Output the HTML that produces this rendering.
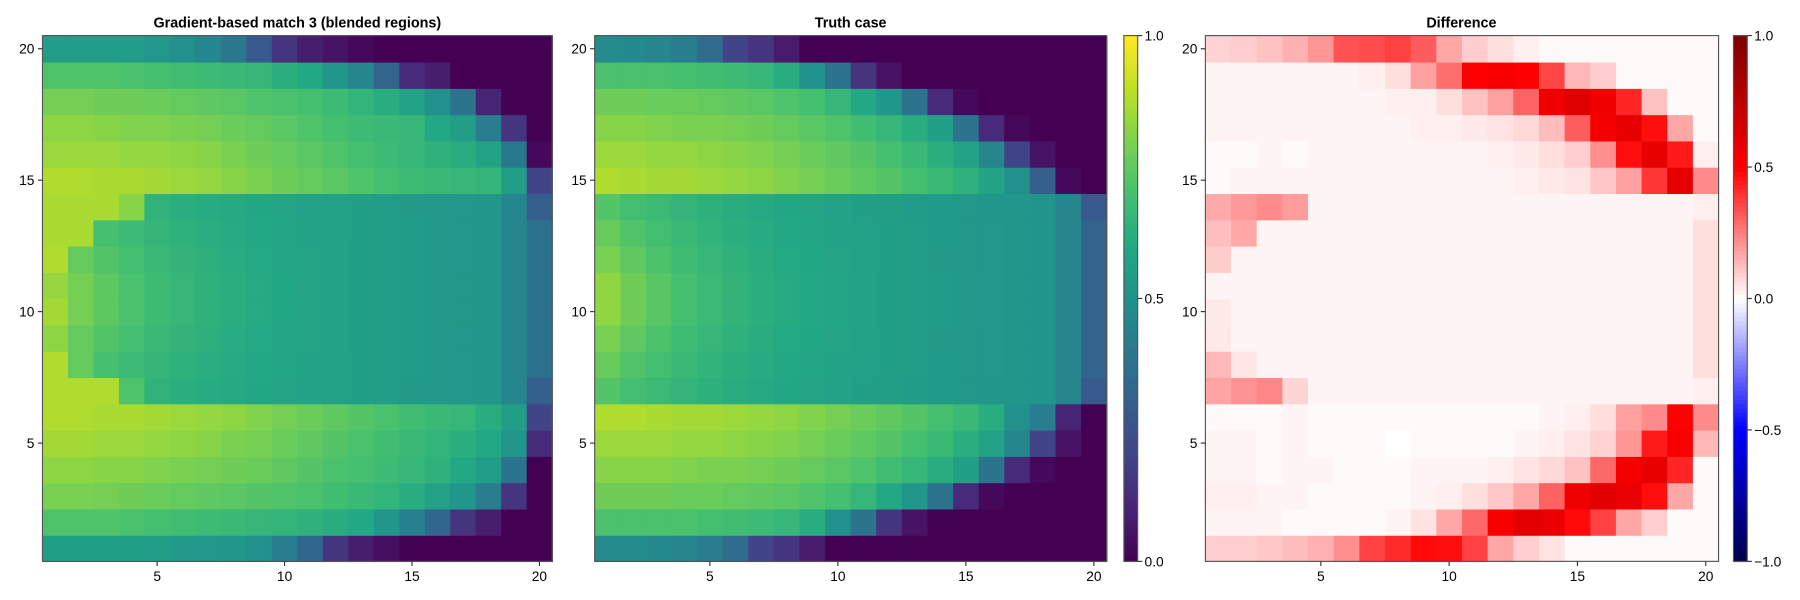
<!DOCTYPE html>
<html><head><meta charset="utf-8"><style>
body{margin:0;background:#fff;}
svg{display:block;font-family:"Liberation Sans",sans-serif;}
</style></head><body>
<svg width="1800" height="600" xmlns="http://www.w3.org/2000/svg">
<g id="s" transform="scale(1.148)">
<text x="259" y="24" font-size="12.5" font-weight="bold" text-anchor="middle">Gradient-based match 3 (blended regions)</text>
<text x="741" y="24" font-size="12.5" font-weight="bold" text-anchor="middle">Truth case</text>
<text x="1273" y="24" font-size="12.5" font-weight="bold" text-anchor="middle">Difference</text>
</g>
</svg>
<script>
const NS="http://www.w3.org/2000/svg",S=document.getElementById('s');
function el(n,a,t){const e=document.createElementNS(NS,n);for(const k in a)e.setAttribute(k,a[k]);if(t!==undefined)e.textContent=t;S.appendChild(e);return e;}
const V=[[0,[68,1,84]],[.1,[72,36,117]],[.2,[65,68,135]],[.3,[53,95,141]],[.4,[42,120,142]],[.5,[33,145,140]],[.6,[34,168,132]],[.7,[68,191,112]],[.8,[122,209,81]],[.9,[189,223,38]],[1,[253,231,37]]];
const SE=[[0,[0,0,77]],[.25,[0,0,255]],[.5,[255,255,255]],[.75,[255,0,0]],[1,[128,0,0]]];
function cm(M,t){t=Math.max(0,Math.min(1,t));for(let i=1;i<M.length;i++){if(t<=M[i][0]){const a=M[i-1],b=M[i],f=(t-a[0])/(b[0]-a[0]);return 'rgb('+a[1].map((v,j)=>Math.round(v+(b[1][j]-v)*f)).join(',')+')';}}return 'rgb('+M[M.length-1][1].join(',')+')';}
function pad(a){a=a.slice();while(a.length<20)a.push(0);return a;}
const Ttop=[
pad([0.48,0.47,0.45,0.42,0.35,0.2,0.15,0.07]),
pad([0.71,0.71,0.71,0.7,0.69,0.68,0.66,0.62,0.5,0.38,0.15,0.05]),
pad([0.78,0.78,0.77,0.77,0.76,0.75,0.74,0.72,0.7,0.66,0.6,0.52,0.38,0.12,0.02]),
pad([0.82,0.82,0.81,0.8,0.8,0.79,0.78,0.76,0.74,0.72,0.69,0.66,0.62,0.56,0.38,0.12,0.02]),
pad([0.85,0.85,0.84,0.84,0.83,0.82,0.81,0.79,0.77,0.75,0.73,0.7,0.67,0.63,0.58,0.45,0.2,0.05]),
pad([0.88,0.87,0.86,0.86,0.85,0.84,0.83,0.81,0.79,0.77,0.75,0.73,0.7,0.67,0.64,0.58,0.5,0.3,0.02])];
function shift(a){return [a[0]].concat(a.slice(0,19));}
const T={},P={};
for(let k=0;k<6;k++){T[20-k]=Ttop[k];T[1+k]=shift(Ttop[k]);}
T[6]=[0.88,0.88,0.87,0.86,0.86,0.85,0.84,0.83,0.81,0.79,0.77,0.75,0.73,0.7,0.67,0.62,0.5,0.42,0.1,0];
for(let r=7;r<=14;r++){const L=0.23-0.035*Math.abs(r-10.5);const row=[];
 for(let c=1;c<=20;c++)row.push(0.5+0.12*(20-c)/19+L*Math.exp(-(c-1)/4));
 row[18]=0.45;row[19]=(r==7||r==14)?0.28:0.32;T[r]=row;}
P[20]=pad([0.55,0.55,0.55,0.55,0.53,0.5,0.46,0.4,0.28,0.15,0.08,0.05,0.02]);
P[19]=pad([0.72,0.72,0.72,0.71,0.7,0.69,0.68,0.67,0.66,0.63,0.6,0.52,0.45,0.32,0.12,0.08]);
P[18]=pad([0.79,0.79,0.78,0.78,0.77,0.76,0.75,0.74,0.72,0.71,0.7,0.68,0.65,0.62,0.58,0.5,0.38,0.1]);
P[17]=pad([0.83,0.83,0.82,0.81,0.81,0.8,0.79,0.77,0.76,0.74,0.72,0.7,0.68,0.67,0.66,0.6,0.55,0.42,0.15]);
P[16]=pad([0.85,0.85,0.85,0.84,0.84,0.83,0.82,0.8,0.78,0.76,0.74,0.72,0.7,0.68,0.66,0.64,0.62,0.58,0.4,0.02]);
P[15]=[0.88,0.88,0.87,0.87,0.86,0.85,0.84,0.82,0.8,0.78,0.76,0.74,0.72,0.7,0.68,0.67,0.66,0.65,0.55,0.2];
P[1]=pad([0.56,0.56,0.56,0.56,0.55,0.54,0.53,0.52,0.5,0.42,0.33,0.15,0.08,0.04]);
P[2]=pad([0.72,0.72,0.72,0.71,0.7,0.69,0.68,0.67,0.66,0.65,0.64,0.62,0.6,0.52,0.43,0.33,0.15,0.08]);
P[3]=pad([0.8,0.8,0.79,0.78,0.77,0.76,0.75,0.74,0.73,0.72,0.71,0.69,0.67,0.65,0.62,0.57,0.52,0.42,0.15]);
P[4]=[0.83,0.83,0.82,0.82,0.81,0.8,0.79,0.78,0.77,0.75,0.73,0.71,0.7,0.68,0.66,0.64,0.6,0.55,0.38,0];
P[5]=[0.86,0.86,0.85,0.85,0.84,0.83,0.82,0.8,0.79,0.77,0.75,0.73,0.71,0.69,0.67,0.65,0.63,0.6,0.52,0.12];
P[6]=[0.88,0.88,0.87,0.87,0.86,0.85,0.84,0.83,0.81,0.79,0.77,0.75,0.73,0.71,0.69,0.67,0.66,0.62,0.55,0.2];
const yel={14:[0.87,0.87,0.87,0.82],13:[0.87,0.87],12:[0.88,0.76],11:[0.83],10:[0.86],9:[0.83],8:[0.88,0.76],7:[0.88,0.88,0.88,0.72]};
for(let r=7;r<=14;r++){const row=T[r].map(v=>v+0.01);
 (yel[r]||[]).forEach((v,i)=>row[i]=Math.max(v,T[r][i]+0.01));
 row[18]=0.46;row[19]=(r==7||r==14)?0.3:0.37;P[r]=row;}
function panel(x0,x1,get,M,tr){
 const y0=31,y1=489,cw=(x1-x0)/20,ch=(y1-y0)/20;
 for(let r=1;r<=20;r++)for(let c=1;c<=20;c++){
  const x=x0+(c-1)*cw,y=y1-r*ch;
  el('rect',{x:x.toFixed(2),y:y.toFixed(2),width:(cw+0.6).toFixed(2),height:(ch+0.6).toFixed(2),fill:cm(M,tr(get(r,c)))});}
 el('rect',{x:x0,y:y0,width:x1-x0,height:y1-y0,fill:'none',stroke:'#555','stroke-width':1});
 for(const v of [5,10,15,20]){
  const x=x0+(v-0.5)*cw,y=y1-(v-0.5)*ch;
  el('line',{x1:x,x2:x,y1:y1,y2:y1+4,stroke:'#333'});
  el('text',{x:x,y:y1+17,'font-size':12,'text-anchor':'middle'},String(v));
  el('line',{x1:x0-4,x2:x0,y1:y,y2:y,stroke:'#333'});
  el('text',{x:x0-7,y:y+4.3,'font-size':12,'text-anchor':'end'},String(v));}
}
panel(37,481,(r,c)=>P[r][c-1],V,t=>Math.min(t,0.88));
panel(518,964,(r,c)=>T[r][c-1],V,t=>Math.min(t,0.88));
panel(1050,1497,(r,c)=>{let d=P[r][c-1]-T[r][c-1];d=d>0?d*1.1+0.01:d+0.01;return d;},SE,d=>(d+1)/2);
function cbar(x,M,labels){
 const y0=31,y1=489,n=120;
 for(let i=0;i<n;i++){const t=i/(n-1);el('rect',{x:x,y:(y1-(i+1)*(y1-y0)/n).toFixed(2),width:12,height:((y1-y0)/n+0.6).toFixed(2),fill:cm(M,t)});}
 el('rect',{x:x,y:y0,width:12,height:y1-y0,fill:'none',stroke:'#555'});
 labels.forEach((l,i)=>{const y=y0+i*(y1-y0)/(labels.length-1);
  el('line',{x1:x+12,x2:x+16,y1:y,y2:y,stroke:'#333'});
  el('text',{x:x+18,y:y+4.3,'font-size':12},l);});
}
cbar(979,V,['1.0','0.5','0.0']);
cbar(1510,SE,['1.0','0.5','0.0','\u22120.5','\u22121.0']);
</script>
</body></html>
